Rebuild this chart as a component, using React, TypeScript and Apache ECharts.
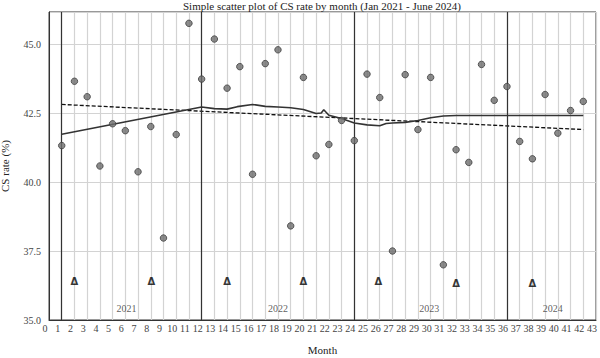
import { useEffect, useRef } from "react";
import * as echarts from "echarts";

const months = [
  1, 2, 3, 4, 5, 6, 7, 8, 9, 10, 11, 12, 13, 14, 15, 16, 17, 18, 19, 20, 21,
  22, 23, 24, 25, 26, 27, 28, 29, 30, 31, 32, 33, 34, 35, 36, 37, 38, 39, 40,
  41, 42,
];
const csRate = [
  41.32, 43.65, 43.09, 40.58, 42.11, 41.86, 40.37, 42.01, 37.97, 41.72, 45.75,
  43.73, 45.18, 43.4, 44.18, 40.28, 44.29, 44.79, 38.41, 43.79, 40.95, 41.36,
  42.23, 41.5, 43.91, 43.06, 37.5, 43.89, 41.9, 43.79, 37.0, 41.17, 40.71,
  44.26, 42.96, 43.46, 41.47, 40.84, 43.17, 41.77, 42.59, 42.92,
];

const smoothX = [
  1, 12, 13, 14, 14.8, 16, 17, 18, 19, 20, 21, 21.4, 21.6, 22, 23, 24, 25, 26,
  26.5, 27, 28, 29, 30, 31, 32, 42,
];
const smoothY = [
  41.73, 42.72, 42.66, 42.64, 42.73, 42.81, 42.74, 42.72, 42.69, 42.63, 42.48,
  42.5, 42.62, 42.42, 42.3, 42.14, 42.07, 42.04, 42.12, 42.14, 42.16, 42.23,
  42.33, 42.39, 42.41, 42.41,
];

const trendX = [1, 42];
const trendY = [42.81, 41.9];

const yearLines = [1, 12, 24, 36];
const yearLabels = ["2021", "2022", "2023", "2024"];
const yearLabelX = [6.1, 18.0, 29.9, 39.6];
const yearLabelY = 35.43;

const deltaX = [2, 8.05, 14, 20, 25.9, 32, 38];
const deltaY = [36.38, 36.38, 36.38, 36.4, 36.38, 36.31, 36.31];

const SERIF = "Liberation Serif, DejaVu Serif, serif";

export default function App() {
  const ref = useRef<HTMLDivElement>(null);
  useEffect(() => {
    if (!ref.current) return;
    const chart = echarts.init(ref.current, null, { renderer: "svg" });
    chart.setOption({
      animation: false,
      backgroundColor: "#ffffff",
      textStyle: { fontFamily: SERIF },
      title: {
        text: "Simple scatter plot of CS rate by month (Jan 2021 - June 2024)",
        left: 183,
        top: 0,
        padding: 0,
        textStyle: {
          fontFamily: SERIF,
          fontSize: 11,
          fontWeight: "normal",
          color: "#222",
        },
      },
      grid: {
        left: 49,
        right: 4,
        top: 12,
        bottom: 38,
        show: true,
        borderColor: "#333",
        borderWidth: 1,
        outerBoundsMode: "none",
        containLabel: false,
      },
      xAxis: {
        type: "value",
        min: 0,
        max: 43,
        interval: 1,
        name: "Month",
        nameLocation: "middle",
        nameGap: 24,
        nameTextStyle: { fontFamily: SERIF, fontSize: 11, color: "#222" },
        axisLine: { show: true, lineStyle: { color: "#333", width: 1 } },
        axisTick: { show: false },
        axisLabel: {
          fontFamily: SERIF,
          fontSize: 10,
          color: "#444",
          margin: 3,
          padding: [0, 8, 0, 0],
        },
        splitLine: { show: true, lineStyle: { color: "#d3d3d3", width: 1.2 } },
      },
      yAxis: {
        type: "value",
        min: 35,
        max: 46.16,
        interval: 2.5,
        name: "CS rate (%)",
        nameLocation: "middle",
        nameGap: 39,
        nameRotate: 90,
        nameTextStyle: { fontFamily: SERIF, fontSize: 11, color: "#222" },
        axisLine: { show: true, lineStyle: { color: "#333", width: 1 } },
        axisTick: { show: false },
        axisLabel: {
          fontFamily: SERIF,
          fontSize: 10,
          color: "#444",
          margin: 8,
          showMaxLabel: false,
          formatter: (v: number) =>
            Math.abs(v / 2.5 - Math.round(v / 2.5)) < 1e-6 ? v.toFixed(1) : "",
        },
        splitLine: { show: true, lineStyle: { color: "#d3d3d3", width: 1.2 } },
      },
      series: [
        {
          type: "line",
          data: [
            [0, 35],
            [0, 35],
          ],
          symbol: "none",
          lineStyle: { width: 0 },
          silent: true,
          z: 1,
          markLine: {
            silent: true,
            symbol: ["none", "none"],
            label: { show: false },
            lineStyle: { color: "#333", width: 1.2, type: "solid" },
            data: yearLines.map((x) => ({ xAxis: x })),
          },
        },
        {
          type: "line",
          data: trendX.map((x, i) => [x, trendY[i]]),
          symbol: "none",
          lineStyle: { color: "#111", width: 1.3, type: [4, 2] },
          z: 3,
        },
        {
          type: "line",
          data: smoothX.map((x, i) => [x, smoothY[i]]),
          symbol: "none",
          lineStyle: { color: "#333", width: 1.6 },
          z: 3,
        },
        {
          type: "scatter",
          data: months.map((m, i) => [m, csRate[i]]),
          symbol: "circle",
          symbolSize: 6.5,
          itemStyle: { color: "#6e6e6e", borderColor: "#3d3d3d", borderWidth: 1 },
          z: 5,
        },
        {
          type: "scatter",
          data: deltaX.map((x, i) => [x, deltaY[i]]),
          symbolSize: 1,
          itemStyle: { color: "rgba(0,0,0,0)" },
          label: {
            show: true,
            position: "inside",
            formatter: () => "Δ",
            fontFamily: "DejaVu Sans",
            fontWeight: "bold",
            fontSize: 10,
            color: "#000",
          },
          z: 6,
        },
        {
          type: "scatter",
          data: yearLabelX.map((x, i) => ({ value: [x, yearLabelY], name: yearLabels[i] })),
          symbolSize: 1,
          itemStyle: { color: "rgba(0,0,0,0)" },
          label: {
            show: true,
            position: "inside",
            formatter: (p: any) => p.name,
            fontFamily: SERIF,
            fontSize: 10,
            color: "#333",
          },
          z: 6,
        },
      ],
    });
    return () => chart.dispose();
  }, []);
  return (
    <div
      ref={ref}
      style={{ position: "fixed", left: 0, top: 0, width: 600, height: 358 }}
    />
  );
}
